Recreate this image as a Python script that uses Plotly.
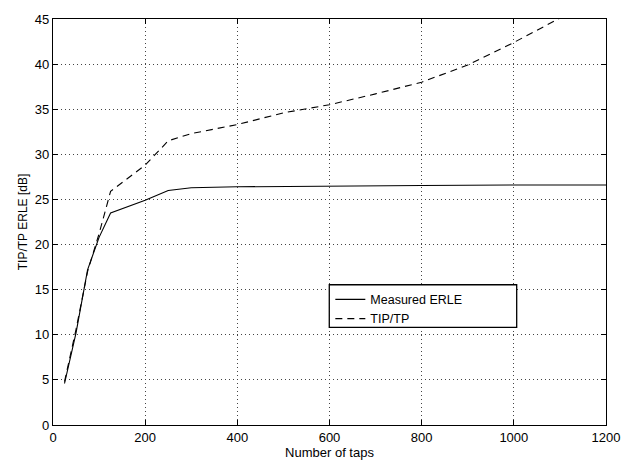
import plotly.graph_objects as go

taps_meas = [25, 50, 75, 100, 125, 200, 250, 300, 400, 600, 800, 1000, 1200]
erle_meas = [4.6, 10.2, 17.2, 20.8, 23.5, 24.9, 26.0, 26.3, 26.4, 26.5, 26.55, 26.6, 26.6]

taps_tip = [25, 50, 75, 100, 125, 200, 250, 300, 400, 500, 600, 700, 800, 900, 1000, 1100, 1200]
tip_db = [4.8, 10.6, 17.0, 21.2, 25.9, 28.8, 31.5, 32.3, 33.3, 34.6, 35.5, 36.7, 38.0, 39.9, 42.4, 45.1, 48.0]

x_ticks = [0, 200, 400, 600, 800, 1000, 1200]
y_ticks = [0, 5, 10, 15, 20, 25, 30, 35, 40, 45]

FONT = "Liberation Sans, Arial, Helvetica"

fig = go.Figure()
fig.add_trace(go.Scatter(x=taps_meas, y=erle_meas, mode="lines", name="Measured ERLE",
                         line=dict(color="black", width=1.1)))
fig.add_trace(go.Scatter(x=taps_tip, y=tip_db, mode="lines", name="TIP/TP",
                         line=dict(color="black", width=1.1, dash="7px,5px")))

axis_common = dict(
    showline=True, linecolor="black", linewidth=1.2, mirror="ticks",
    ticks="inside", ticklen=5, tickcolor="black",
    showgrid=True, gridcolor="#444444", griddash="1px,3px", gridwidth=1,
    zeroline=False, tickfont=dict(family=FONT, size=13, color="black"),
)

fig.update_xaxes(range=[0, 1200], tickvals=x_ticks,
                 title=dict(text="Number of taps", font=dict(family=FONT, size=13, color="black"), standoff=1),
                 **axis_common)
fig.update_yaxes(range=[0, 45], tickvals=y_ticks,
                 title=dict(text="TIP/TP ERLE [dB]", font=dict(family=FONT, size=12, color="black"), standoff=4),
                 **axis_common)

# legend frame
fig.add_shape(type="rect", xref="paper", yref="paper",
              x0=0.4996, x1=0.8385, y0=0.2404, y1=0.3455,
              line=dict(color="black", width=1.3), fillcolor="white", layer="above")

fig.update_layout(
    width=632, height=467,
    margin=dict(l=53, r=26, t=13, b=41),
    plot_bgcolor="white", paper_bgcolor="white",
    showlegend=True,
    legend=dict(x=0.5015, y=0.3455, xanchor="left", yanchor="top",
                bgcolor="rgba(0,0,0,0)", borderwidth=0,
                font=dict(family=FONT, size=12.5, color="black"),
                tracegroupgap=0, itemwidth=30),
)

fig.write_html("out.html")
